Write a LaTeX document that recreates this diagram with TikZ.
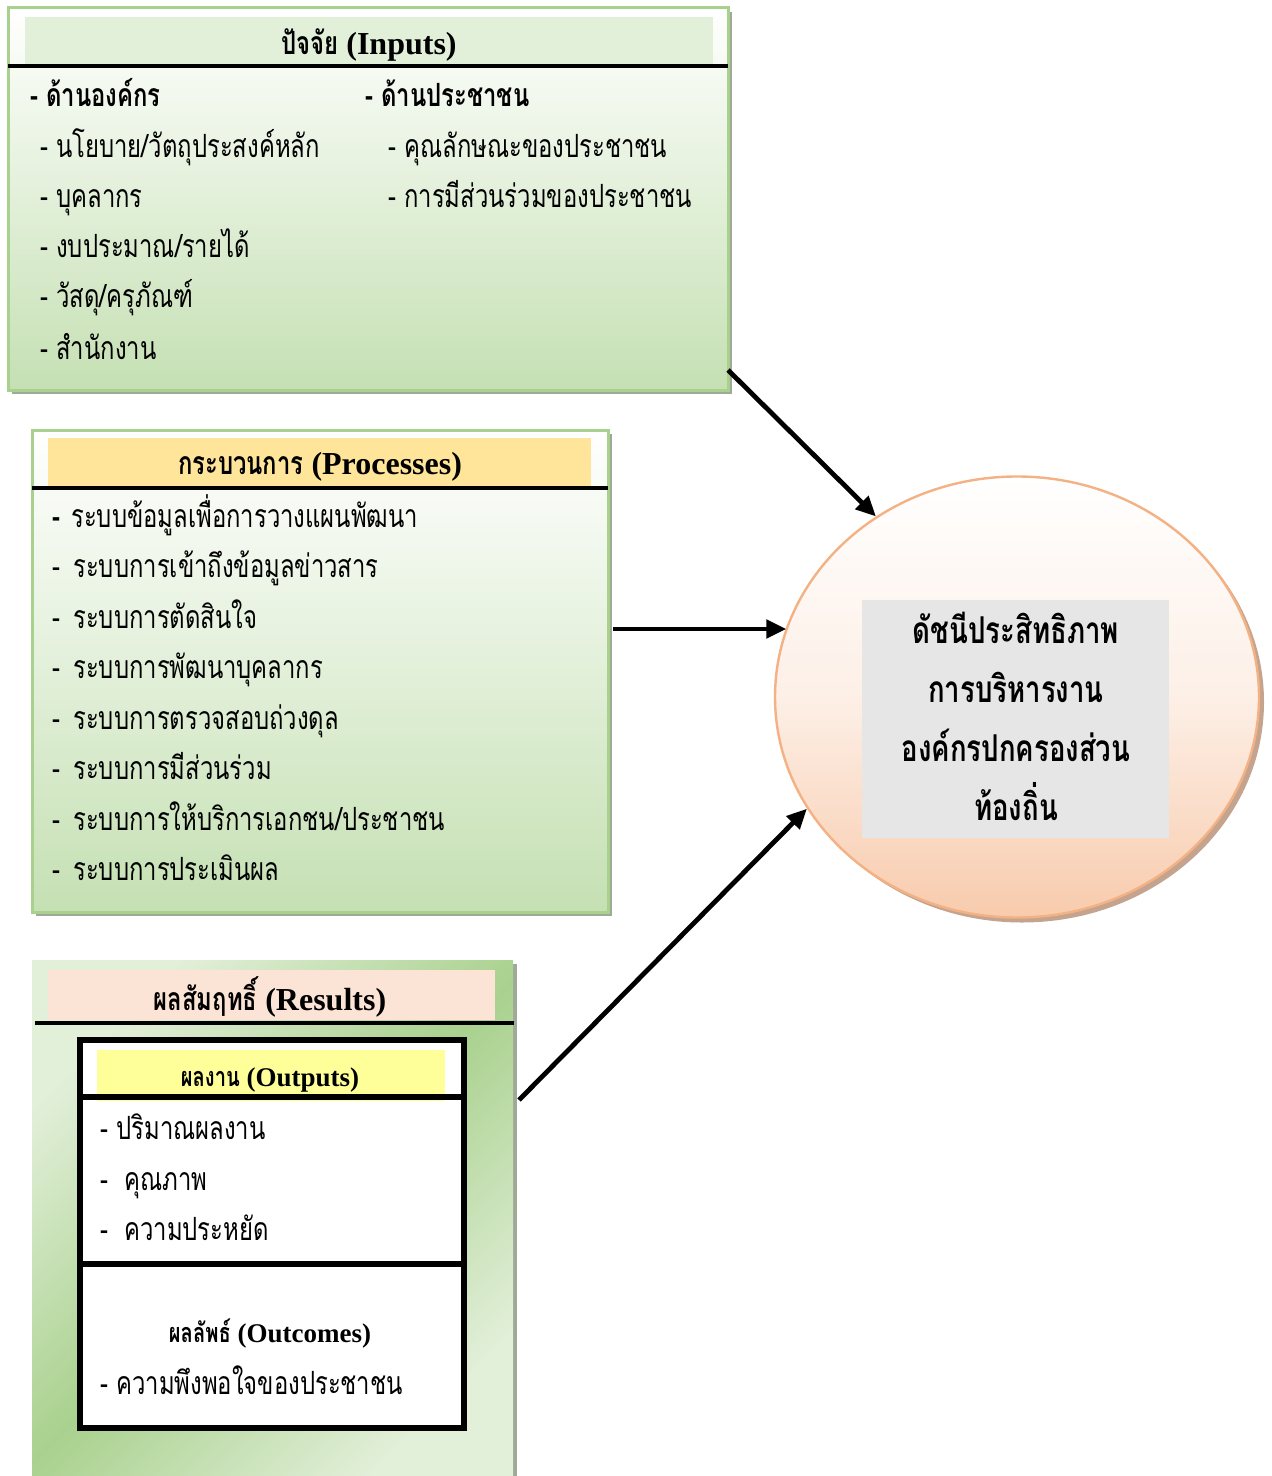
\documentclass[tikz,border=0pt]{standalone}
\usepackage{fontspec}
\setmainfont{Liberation Serif}
\newfontfamily\thai[Script=Thai,FakeStretch=0.745]{Loma}
\usetikzlibrary{arrows.meta,fit,shapes.geometric,shadows}

\definecolor{gline}{HTML}{A9D18E}
\definecolor{gbot}{HTML}{C5E0B3}
\definecolor{gband}{HTML}{E2EFD9}
\definecolor{yband}{HTML}{FFE599}
\definecolor{pband}{HTML}{FBE4D5}
\definecolor{oband}{HTML}{FFFF99}
\definecolor{oline}{HTML}{F4B183}
\definecolor{obot}{HTML}{F8CBAD}
\definecolor{idxgray}{HTML}{E6E6E6}
\definecolor{gshade}{HTML}{A0A897}
\definecolor{oshade}{HTML}{C4A48E}

\tikzset{
  box/.style={draw=gline, line width=1.5pt, inner sep=0, top color=white, bottom color=gbot,
    drop shadow={shadow xshift=2pt, shadow yshift=-2pt, fill=gshade, opacity=1}},
  band/.style={inner sep=0},
  sepline/.style={line width=2.2pt},
  title/.style={font=\bfseries\fontsize{16}{19}\selectfont},
  subtitle/.style={font=\bfseries\fontsize{13.5}{16}\selectfont},
  sub/.style={anchor=base west, yshift=-5pt, inner sep=0, font=\thai\bfseries\fontsize{16}{19}\selectfont},
  item/.style={anchor=base west, yshift=-5pt, inner sep=0, font=\thai\fontsize{16}{19}\selectfont},
  arr/.style={line width=2.4pt, -{Triangle[length=10pt,width=9pt]}},
}

\begin{document}
\begin{tikzpicture}[x=0.5pt, y=-0.5pt]
\useasboundingbox (0,0) rectangle (1272,1476);

% inputs
\node[box, fit={(8,8) (728,390)}] (inp) {};
\node[band, fill=gband, fit={(25,17) (713,65)}] (inpband) {};
\draw[sepline] (8,66) -- (728,66);
\node[title] (inptitle) at (369,45) {{\thai ปัจจัย} (Inputs)};
\node[sub] (org) at (30,97) {- ด้านองค์กร};
\node[sub] (ppl) at (365,97) {- ด้านประชาชน};
\node[item] (org1) at (40,148) {- นโยบาย/วัตถุประสงค์หลัก};
\node[item] (org2) at (40,198) {- บุคลากร};
\node[item] (org3) at (40,248) {- งบประมาณ/รายได้};
\node[item] (org4) at (40,298) {- วัสดุ/ครุภัณฑ์};
\node[item] (org5) at (40,349) {- สำนักงาน};
\node[item] (ppl1) at (388,148) {- คุณลักษณะของประชาชน};
\node[item] (ppl2) at (388,198) {- การมีส่วนร่วมของประชาชน};

% processes
\node[box, fit={(32,430) (608,912)}] (proc) {};
\node[band, fill=yband, fit={(48,438) (591,487)}] (procband) {};
\draw[sepline] (32,488) -- (608,488);
\node[title] (proctitle) at (320,467) {{\thai กระบวนการ} (Processes)};
\node[item] (proc1) at (52,517) {{\bfseries -} \hspace{1.5pt}ระบบข้อมูลเพื่อการวางแผนพัฒนา};
\node[item] (proc2) at (52,567) {- \hspace{2.5pt}ระบบการเข้าถึงข้อมูลข่าวสาร};
\node[item] (proc3) at (52,618) {- \hspace{2.5pt}ระบบการตัดสินใจ};
\node[item] (proc4) at (52,668) {- \hspace{2.5pt}ระบบการพัฒนาบุคลากร};
\node[item] (proc5) at (52,719) {- \hspace{2.5pt}ระบบการตรวจสอบถ่วงดุล};
\node[item] (proc6) at (52,769) {- \hspace{2.5pt}ระบบการมีส่วนร่วม};
\node[item] (proc7) at (52,820) {- \hspace{2.5pt}ระบบการให้บริการเอกชน/ประชาชน};
\node[item] (proc8) at (52,870) {- \hspace{2.5pt}ระบบการประเมินผล};

% results
\node[inner sep=0, left color=gband, right color=gband, middle color=gline, shading angle=45,
  drop shadow={shadow xshift=2pt, shadow yshift=-2pt, fill=gshade, opacity=1},
  fit={(32,960) (513,1482)}] (res) {};
\node[band, fill=pband, fit={(48,970) (495,1020)}] (resband) {};
\draw[sepline] (35,1023) -- (514,1023);
\node[title] (restitle) at (270,997) {{\thai ผลสัมฤทธิ์} (Results)};
\node[draw, line width=2.6pt, fill=white, inner sep=0, fit={(80,1040) (464,1428)}] (outbox) {};
\node[band, fill=oband, fit={(97,1050) (445,1101)}] (outband) {};
\draw[line width=2.6pt] (80,1097) -- (464,1097);
\draw[line width=2.6pt] (80,1264) -- (464,1264);
\node[subtitle] (outtitle) at (270,1080) {{\thai ผลงาน} (Outputs)};
\node[item] (out1) at (100,1129) {- ปริมาณผลงาน};
\node[item] (out2) at (100,1180) {-~ คุณภาพ};
\node[item] (out3) at (100,1230) {-~ ความประหยัด};
\node[subtitle] (oc) at (270,1334) {{\thai ผลลัพธ์} (Outcomes)};
\node[item] (oc1) at (100,1384) {- ความพึงพอใจของประชาชน};

% index circle
\node[ellipse, draw=oline, line width=1.2pt, inner sep=0, top color=white, bottom color=obot,
  middle color=obot!30!white, minimum width=242pt, minimum height=220.5pt,
  drop shadow={shadow xshift=2.5pt, shadow yshift=-2.5pt, fill=oshade, opacity=1}] (idx) at (1017,697) {};
\node[band, fill=idxgray, fit={(862,600) (1169,838)}] (idxbox) {};
\node[align=center, font=\thai\bfseries\fontsize{18.5}{29.5}\selectfont] (idxtext) at (1016,716) {ดัชนีประสิทธิภาพ\\การบริหารงาน\\องค์กรปกครองส่วน\\ท้องถิ่น};

% arrows
\coordinate (a1) at (728,370);
\coordinate (a2) at (613,629);
\coordinate (a3) at (519,1100);
\draw[arr] (a1) -- (idx.128);
\draw[arr] (a2) -- (a2 -| idx.163.5);
\draw[arr] (a3) -- (idx.208.5);
\end{tikzpicture}
\end{document}
